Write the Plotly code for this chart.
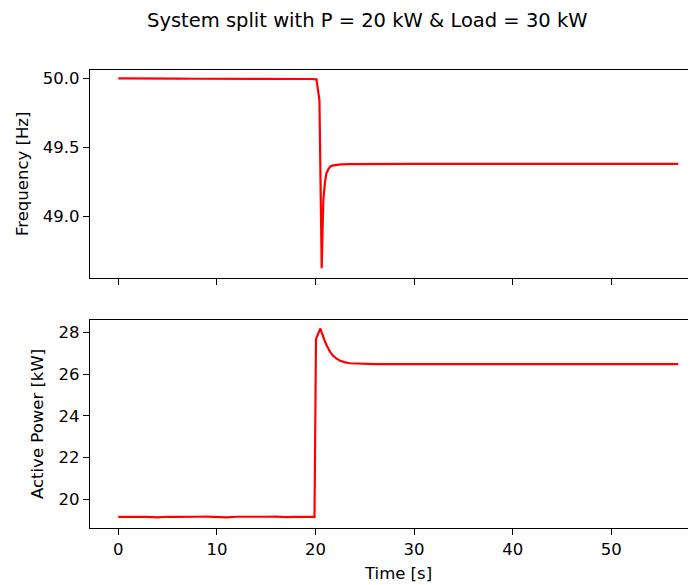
import plotly.graph_objects as go

# ---- data ----
freq_time = [0.0, 2.0, 4.0, 6.0, 8.0, 10.0, 11.0, 12.0, 14.0, 16.0, 18.0, 19.5, 20.1,
             20.25, 20.4, 20.5, 20.63, 20.7, 20.8, 20.95, 21.1, 21.3, 21.5, 21.8,
             22.1, 22.6, 23.5, 25.0, 30.0, 35.0, 40.0, 45.0, 50.0, 56.8]
freq_hz = [50.000, 50.001, 49.999, 49.998, 49.997, 49.997, 49.998, 50.000, 49.999,
           49.998, 49.997, 49.995, 49.993,
           49.90, 49.84, 49.30, 48.621, 48.85, 49.12, 49.24, 49.31, 49.34, 49.36, 49.368,
           49.373, 49.376, 49.378, 49.379, 49.379, 49.379, 49.379, 49.379, 49.379, 49.379]

power_time = [0.0, 1.0, 2.0, 3.0, 4.0, 5.0, 6.0, 7.0, 8.0, 9.0, 10.0, 11.0, 12.0,
              13.0, 14.0, 15.0, 16.0, 17.0, 18.0, 19.0, 19.9, 20.05, 20.15, 20.5,
              20.6, 20.7, 20.9, 21.1, 21.3, 21.5, 21.8, 22.1, 22.5, 23.0, 23.5, 24.5,
              26.0, 30.0, 35.0, 40.0, 45.0, 50.0, 56.8]
power_kw = [19.15, 19.16, 19.14, 19.15, 19.13, 19.16, 19.15, 19.14, 19.16, 19.17,
            19.15, 19.13, 19.16, 19.15, 19.14, 19.16, 19.17, 19.14, 19.15, 19.16,
            19.15, 27.70, 27.80, 28.20,
            28.05, 27.90, 27.65, 27.42, 27.22, 27.06, 26.88, 26.76, 26.65, 26.57,
            26.53, 26.50, 26.49, 26.49, 26.49, 26.49, 26.49, 26.49, 26.49]

x_ticks = [0, 10, 20, 30, 40, 50]
freq_ticks = [49.0, 49.5, 50.0]
power_ticks = [20, 22, 24, 26, 28]

title_text = "System split with P = 20 kW & Load = 30 kW"

# the page body adds an 8px offset; compensate
OFF = 8
W, H = 696 - OFF, 585 - OFF
L = 90 - OFF
FONT = "DejaVu Sans"

def px_x(px):
    return (px - OFF - L) / (W - L)

def px_y(py):
    return 1 - (py - OFF) / H

fig = go.Figure()
fig.add_trace(go.Scatter(x=freq_time, y=freq_hz, mode="lines",
                         line=dict(color="#ff0000", width=2.2), xaxis="x", yaxis="y",
                         showlegend=False))
fig.add_trace(go.Scatter(x=power_time, y=power_kw, mode="lines",
                         line=dict(color="#ff0000", width=2.2),
                         xaxis="x2", yaxis="y2", showlegend=False))

xr = [-2.87, 58.59]
axis_common = dict(showgrid=False, zeroline=False, showline=True, linecolor="black",
                   linewidth=1.3, ticks="outside", ticklen=6, tickwidth=1.3, tickcolor="black",
                   tickfont=dict(family=FONT, size=16.5, color="black"))

fig.update_layout(
    width=W, height=H,
    margin=dict(l=L, r=0, t=0, b=0),
    paper_bgcolor="white", plot_bgcolor="white",
    font=dict(family=FONT, color="black"),
    xaxis=dict(domain=[0, 1], range=xr, anchor="y", tickvals=x_ticks,
               showticklabels=False, mirror=True, **axis_common),
    yaxis=dict(domain=[px_y(278), px_y(69.5)], range=[48.551, 50.064], anchor="x",
               tickvals=freq_ticks, tickformat=".1f", **axis_common),
    xaxis2=dict(domain=[0, 1], range=xr, anchor="y2", tickvals=x_ticks,
                mirror=True, **axis_common),
    yaxis2=dict(domain=[px_y(528), px_y(319.5)], range=[18.62, 28.63], anchor="x2",
                tickvals=power_ticks, **axis_common),
    annotations=[
        dict(text=title_text, x=px_x(367), y=px_y(20), xref="paper", yref="paper",
             showarrow=False, font=dict(family=FONT, size=19.5, color="black"),
             xanchor="center", yanchor="middle"),
        dict(text="Frequency [Hz]", x=px_x(22), y=px_y(174), xref="paper", yref="paper",
             showarrow=False, textangle=-90, font=dict(family=FONT, size=16.5, color="black"),
             xanchor="center", yanchor="middle"),
        dict(text="Active Power [kW]", x=px_x(37), y=px_y(424), xref="paper", yref="paper",
             showarrow=False, textangle=-90, font=dict(family=FONT, size=16.5, color="black"),
             xanchor="center", yanchor="middle"),
        dict(text="Time [s]", x=px_x(398), y=px_y(573), xref="paper", yref="paper",
             showarrow=False, font=dict(family=FONT, size=16.5, color="black"),
             xanchor="center", yanchor="middle"),
    ],
)

fig.write_html("out.html")
